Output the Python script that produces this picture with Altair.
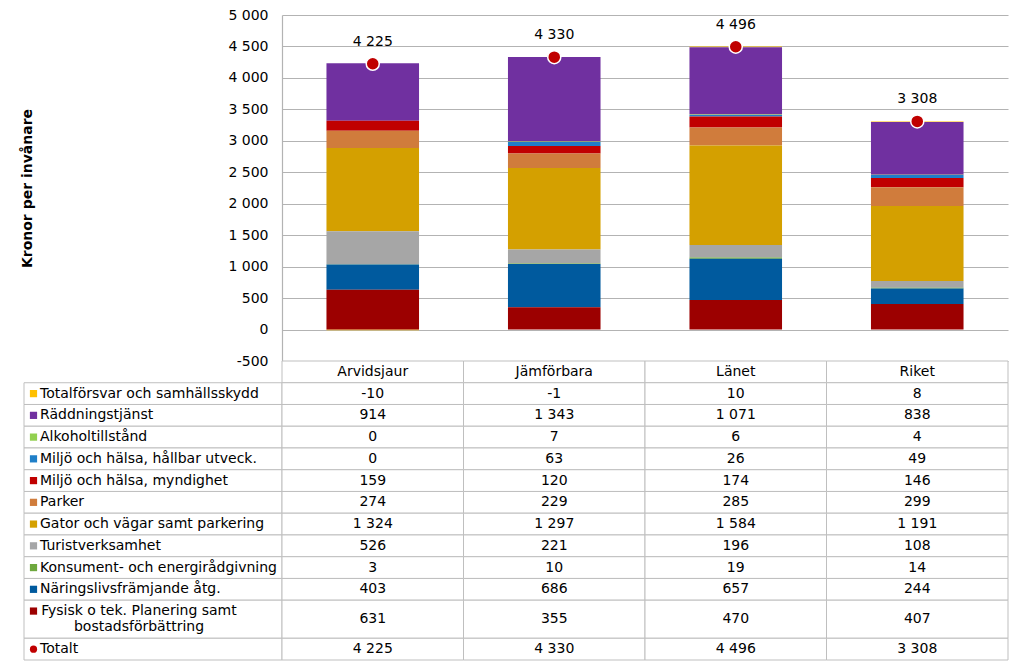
import altair as alt
import pandas as pd

# ---------------- data ----------------
categories = ["Arvidsjaur", "Jämförbara", "Länet", "Riket"]

series_names = [
    "Totalförsvar och samhällsskydd",
    "Räddningstjänst",
    "Alkoholtillstånd",
    "Miljö och hälsa, hållbar utveck.",
    "Miljö och hälsa, myndighet",
    "Parker",
    "Gator och vägar samt parkering",
    "Turistverksamhet",
    "Konsument- och energirådgivning",
    "Näringslivsfrämjande åtg.",
    "Fysisk o tek. Planering samt\nbostadsförbättring",
]
series_colors = [
    "#FFC000", "#7030A0", "#92D050", "#1F7FC8", "#C00000", "#D07C3C",
    "#D4A000", "#A6A6A6", "#6EA83E", "#005A9E", "#9C0000",
]
values = [
    [-10, -1, 10, 8],
    [914, 1343, 1071, 838],
    [0, 7, 6, 4],
    [0, 63, 26, 49],
    [159, 120, 174, 146],
    [274, 229, 285, 299],
    [1324, 1297, 1584, 1191],
    [526, 221, 196, 108],
    [3, 10, 19, 14],
    [403, 686, 657, 244],
    [631, 355, 470, 407],
]
total_label = "Totalt"
totals = [4225, 4330, 4496, 3308]
total_color = "#C00000"

y_ticks = list(range(-500, 5001, 500))
y_title = "Kronor per invånare"


def fmt(v):
    s = f"{abs(v):,}".replace(",", " ")
    return ("-" if v < 0 else "") + s


FONT = "DejaVu Sans"
GRID = "#b3b3b3"
BORDER = "#bfbfbf"

# ---------------- bar chart ----------------
n = len(series_names)
bar_rows = []
for i, name in enumerate(series_names):
    for j, cat in enumerate(categories):
        bar_rows.append({"series": name, "category": cat, "value": values[i][j], "order": n - 1 - i})
bar_df = pd.DataFrame(bar_rows)

tot_df = pd.DataFrame({"category": categories, "total": totals, "label": [fmt(t) for t in totals]})

x_band = alt.Scale(paddingInner=0, paddingOuter=0)
y_scale = alt.Scale(domain=[-500, 5000], nice=False, zero=False)

bars = alt.Chart(bar_df).mark_bar(width=alt.RelativeBandSize(band=0.51)).encode(
    x=alt.X("category:N", sort=categories, scale=x_band, axis=None),
    y=alt.Y(
        "value:Q",
        stack="zero",
        scale=y_scale,
        axis=alt.Axis(
            values=y_ticks,
            tickCount=len(y_ticks) + 2,
            title=y_title,
            titleFont=FONT,
            titleFontSize=14,
            titleFontWeight="bold",
            titleColor="#000000",
            titleX=-255,
            titleY=173,
            titleAngle=270,
            titleAlign="center",
            titleBaseline="middle",
            labelExpr="(datum.value < 0 ? '-' : '') + replace(format(abs(datum.value), ','), ',', ' ')",
            labelFont=FONT,
            labelFontSize=14,
            labelColor="#000000",
            labelPadding=14,
            labelOverlap=False,
            labelBound=False,
            ticks=False,
            tickSize=0,
            domain=True,
            domainColor=GRID,
            domainWidth=1.2,
            grid=True,
            gridColor=GRID,
            gridWidth=1.2,
        ),
    ),
    color=alt.Color("series:N", scale=alt.Scale(domain=series_names, range=series_colors), legend=None),
    order=alt.Order("order:Q"),
)

dots = alt.Chart(tot_df).mark_circle(
    size=170, color=total_color, opacity=1, stroke="white", strokeWidth=1.5
).encode(
    x=alt.X("category:N", sort=categories, scale=x_band, axis=None),
    y=alt.Y("total:Q", scale=y_scale),
)

dot_text = alt.Chart(tot_df).mark_text(dy=-22, font=FONT, fontSize=14, color="#000000").encode(
    x=alt.X("category:N", sort=categories, scale=x_band, axis=None),
    y=alt.Y("total:Q", scale=y_scale),
    text="label:N",
)

bar_chart = alt.layer(bars, dots, dot_text).properties(width=726, height=346)

blank = alt.Chart(pd.DataFrame({"v": [0]})).mark_point(opacity=0).encode(
    x=alt.X("v:Q", axis=None), y=alt.Y("v:Q", axis=None)
).properties(width=258, height=346)

# ---------------- data table ----------------
row_names = series_names + [total_label]
row_colors = series_colors + [total_color]
row_shapes = ["square"] * n + ["circle"]
row_lines = [nm.count("\n") + 1 for nm in row_names]
row_heights = [1 + 0.75 * (ln - 1) for ln in row_lines]

y0s = []
acc = 1.0
for h in row_heights:
    y0s.append(acc)
    acc += h
total_units = acc

label_df = pd.DataFrame({
    "label": row_names,
    "color": row_colors,
    "shape": row_shapes,
    "lines": row_lines,
    "y0": y0s,
    "y1": [a + h for a, h in zip(y0s, row_heights)],
})
label_df["ym"] = (label_df["y0"] + label_df["y1"]) / 2
label_df["ymark"] = label_df["y0"] + 0.5
label_df["x0"] = 0.0
label_df["x1"] = 1.0

cell_rows = []
for j, cat in enumerate(categories):
    cell_rows.append({"category": cat, "text": cat, "y0": 0.0, "y1": 1.0})
for r, name in enumerate(row_names):
    for j, cat in enumerate(categories):
        v = totals[j] if r == n else values[r][j]
        cell_rows.append({"category": cat, "text": fmt(v), "y0": y0s[r], "y1": y0s[r] + row_heights[r]})
cell_df = pd.DataFrame(cell_rows)
cell_df["ym"] = (cell_df["y0"] + cell_df["y1"]) / 2

ys = alt.Scale(domain=[0, total_units], reverse=True, nice=False, zero=False)
xs = alt.Scale(domain=[0, 1], nice=False, zero=False)
x_tab = alt.X("category:N", sort=categories, scale=x_band, axis=None)

cells = alt.Chart(cell_df).mark_rect(fill="white", stroke=BORDER, strokeWidth=1).encode(
    x=x_tab, y=alt.Y("y0:Q", scale=ys, axis=None), y2="y1:Q"
)
cell_text = alt.Chart(cell_df).mark_text(font=FONT, fontSize=14, color="#000000").encode(
    x=x_tab, y=alt.Y("ym:Q", scale=ys, axis=None), text="text:N"
)
value_table = alt.layer(cells, cell_text).properties(width=726, height=299)

lbl_rect = alt.Chart(label_df).mark_rect(fill="white", stroke=BORDER, strokeWidth=1).encode(
    x=alt.X("x0:Q", scale=xs, axis=None), x2="x1:Q",
    y=alt.Y("y0:Q", scale=ys, axis=None), y2="y1:Q",
)
markers = alt.Chart(label_df).mark_point(filled=True, opacity=1).encode(
    x=alt.value(9.5),
    y=alt.Y("ymark:Q", scale=ys, axis=None),
    shape=alt.Shape("shape:N", scale=None),
    color=alt.Color("color:N", scale=None),
    size=alt.value(52),
)
lbl_single = alt.Chart(label_df).transform_filter("datum.lines == 1").mark_text(
    align="left", font=FONT, fontSize=14, color="#000000"
).encode(x=alt.value(16), y=alt.Y("ym:Q", scale=ys, axis=None), text="label:N")
lbl_multi = alt.Chart(label_df).transform_filter("datum.lines > 1").mark_text(
    align="center", font=FONT, fontSize=14, color="#000000", lineBreak="\n", lineHeight=16, dy=-8
).encode(x=alt.value(115), y=alt.Y("ym:Q", scale=ys, axis=None), text="label:N")
label_table = alt.layer(lbl_rect, markers, lbl_single, lbl_multi).properties(width=258, height=299)

chart = alt.concat(
    blank, bar_chart, label_table, value_table, columns=2, spacing=0, bounds="flush"
).resolve_scale(
    x="independent", y="independent"
).properties(
    padding={"left": 12, "top": 0, "right": 5, "bottom": 0}
).configure(font=FONT).configure_view(stroke=None)

chart.save("out.html", embed_options={"renderer": "svg", "actions": False})
